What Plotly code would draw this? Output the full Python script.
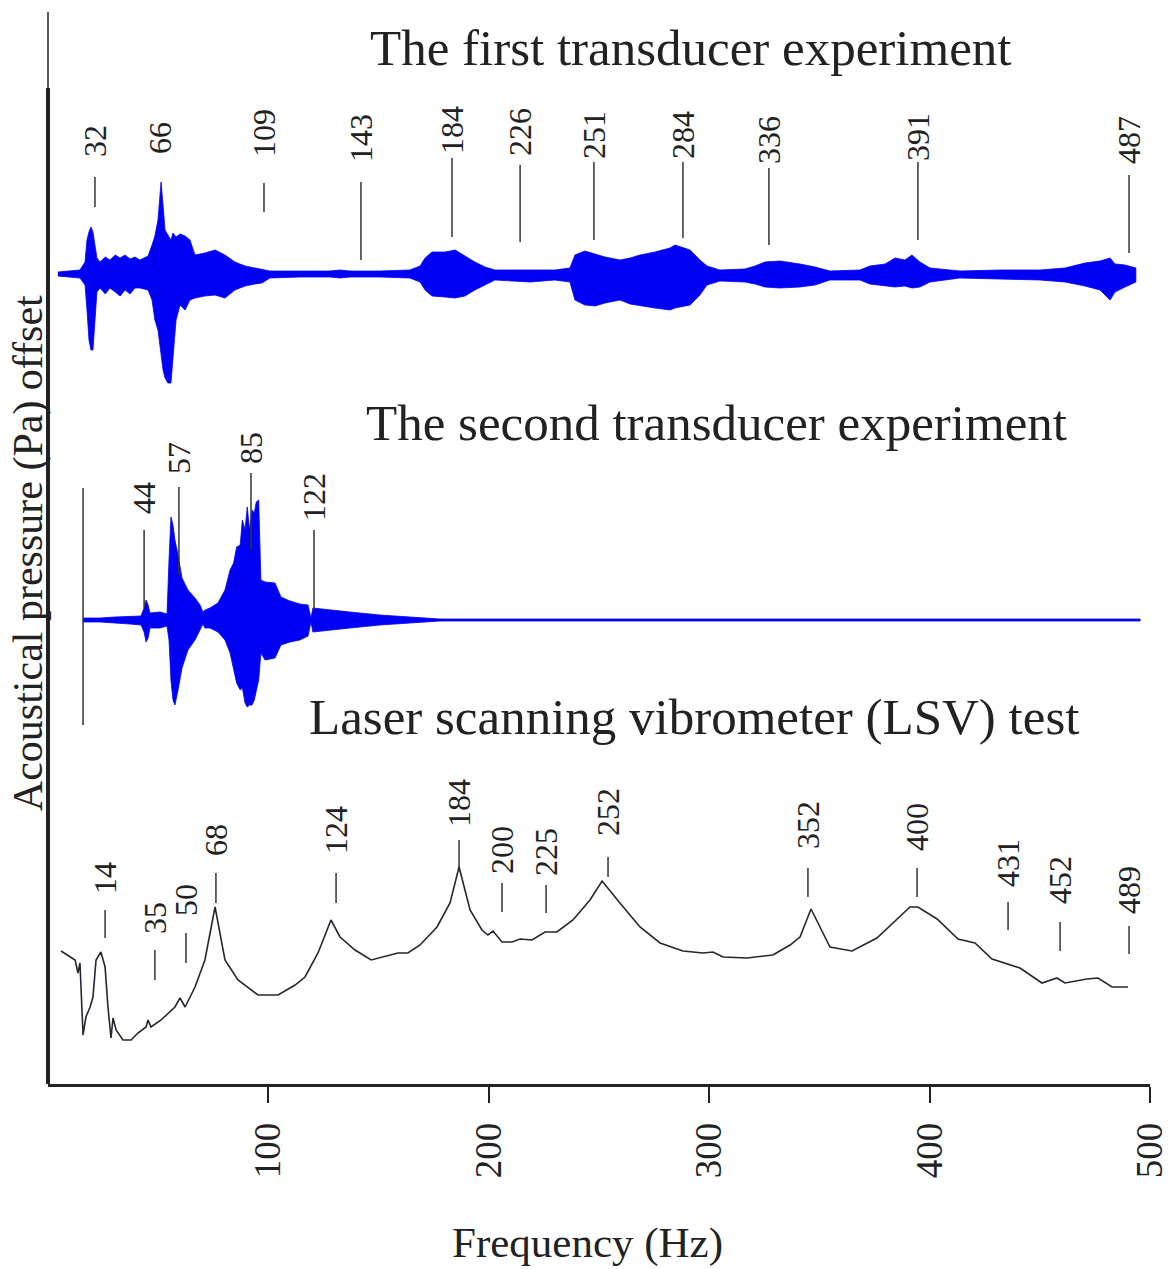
import plotly.graph_objects as go

FONT = "Liberation Serif"
INK = "#222222"
BLUE = "rgb(0,0,245)"

# ---------------- axis ticks ----------------
tick_vals = [100, 200, 300, 400, 500]
tick_text = ["100", "200", "300", "400", "500"]

# ---------------- first transducer experiment (envelope of the trace) ----------------
exp1_offset = 810
exp1_freq = [4.5, 10.0, 14.5, 16.8, 17.7, 18.6, 19.5, 20.4, 21.3, 22.2, 23.6, 26.0, 28.1, 30.5, 32.7, 35.0, 37.2, 39.5, 41.7,
             45.4, 47.2, 48.5, 49.9, 50.8, 51.3, 52.2, 53.1, 54.4, 55.8, 56.7, 58.1, 59.9, 62.2, 64.4,
             66.7, 71.2, 75.8, 80.3, 84.8, 89.4, 93.9, 97.1, 100.7, 114.3, 127.9, 132.5, 137.0, 150.6,
             164.2, 168.8, 171.1, 174.2, 180.1, 184.7, 189.2, 193.7, 198.3, 202.8, 218.7, 230.0, 236.8,
             239.1, 243.6, 248.2, 252.7, 259.5, 264.1, 268.6, 275.4, 282.2, 284.5, 291.3, 295.8, 299.0,
             304.9, 316.2, 320.8, 325.3, 332.1, 341.2, 348.0, 354.8, 368.4, 372.9, 379.8, 384.3, 388.8,
             392.0, 395.6, 400.2, 413.8, 431.9, 450.1, 461.4, 470.5, 477.3, 481.9, 484.1, 488.7, 493.6]
exp1_upper = [2, 3, 4, 12, 34, 42, 47, 42, 29, 16, 12, 17, 14, 19, 16, 19, 15, 17, 14,
              18, 29, 38, 54, 84, 92, 69, 44, 39, 34, 41, 37, 40, 38, 34,
              19, 21, 24, 19, 12, 8, 6, 4, 3, 3, 3, 4, 3, 3,
              4, 8, 16, 22, 22, 24, 18, 12, 7, 4, 4, 4, 6,
              19, 23, 20, 17, 14, 16, 19, 22, 26, 29, 24, 14, 8,
              4, 5, 8, 12, 13, 10, 7, 3, 4, 8, 10, 16, 14,
              19, 12, 6, 3, 4, 4, 6, 11, 13, 16, 10, 9, 6]
exp1_lower = [-2, -3, -4, -11, -36, -66, -76, -76, -46, -18, -14, -20, -14, -18, -22, -16, -20, -14, -14,
              -16, -26, -46, -56, -71, -81, -96, -104, -109, -109, -86, -46, -31, -36, -26,
              -24, -22, -21, -24, -16, -12, -10, -9, -4, -3, -3, -4, -3, -3,
              -4, -8, -16, -22, -23, -24, -22, -16, -11, -6, -8, -6, -8,
              -26, -31, -32, -29, -26, -30, -32, -34, -36, -34, -31, -21, -11,
              -7, -8, -10, -13, -14, -13, -11, -6, -6, -10, -12, -13, -12,
              -14, -13, -8, -4, -5, -6, -8, -12, -16, -26, -18, -13, -8]

exp1_peaks = ["32", "66", "109", "143", "184", "226", "251", "284", "336", "391", "487"]
exp1_peak_x = [21.3, 50.8, 98.0, 142.0, 183.3, 214.2, 247.7, 288.1, 327.1, 394.7, 490.5]
exp1_text_y = [926, 929, 926, 921, 929, 927, 924, 924, 919, 922, 919]
exp1_line_top = [907, None, 901, 902, 926, 919, 922, 922, 916, 922, 909]
exp1_line_bot = [877, None, 872, 824, 847, 842, 844, 846, 839, 844, 831]

# ---------------- second transducer experiment ----------------
exp2_offset = 464
exp2_freq = [15.9, 23.6, 30.4, 37.2, 42.2, 43.6, 44.5, 45.4, 46.3, 50.8, 54.0, 54.9, 55.8, 56.7,
             57.6, 59.0, 60.8, 63.5, 66.7, 69.0, 70.3, 71.2, 73.5, 77.1, 80.3, 82.6, 84.2, 85.6,
             87.2, 88.2, 89.4, 90.4, 91.5, 92.6, 93.6, 94.5, 95.6, 96.6, 98.5, 103.0, 105.7, 109.8,
             114.3, 118.0, 119.3, 120.2, 127.9, 137.0, 150.6, 164.2, 177.9, 495.5]
exp2_upper = [2, 2, 3, 4, 4, 12, 20, 15, 7, 8, 6, 60, 103, 95,
              80, 65, 42, 30, 22, 15, 8, 10, 12, 17, 30, 50, 57, 73,
              75, 100, 90, 113, 90, 110, 107, 118, 120, 40, 38, 37, 23, 19,
              16, 15, 2, 12, 10, 8, 5, 3, 1, 1]
exp2_lower = [-2, -2, -3, -4, -5, -12, -22, -18, -8, -8, -6, -20, -60, -80,
              -85, -70, -48, -30, -20, -10, -4, -8, -8, -12, -20, -33, -50, -63,
              -70, -68, -83, -87, -85, -85, -80, -73, -60, -33, -40, -38, -25, -22,
              -20, -16, -2, -12, -10, -8, -5, -3, -1, -1]
exp2_start_x = 15.9
exp2_start_span = [359, 596]

exp2_peaks = ["44", "57", "85", "122"]
exp2_peak_x = [43.6, 59.4, 92.1, 120.7]
exp2_text_y = [569, 609, 619, 562]
exp2_line_top = [554, 597, 611, 554]
exp2_line_bot = [476, 509, 534, 474]

# ---------------- laser scanning vibrometer (LSV) test ----------------
lsv_freq = [5.9, 12.3, 13.6, 14.5, 15.9, 17.2, 19.1, 20.4, 21.8, 24.0, 25.9, 27.2, 28.6, 29.5,
            30.9, 34.0, 37.7, 40.8, 44.5, 45.4, 46.7, 51.3, 57.6, 59.9, 62.2, 66.7, 71.2, 75.8,
            80.3, 86.2, 95.3, 104.4, 112.1, 116.6, 122.5, 128.4, 132.5, 139.3, 146.6, 158.8,
            163.3, 168.8, 176.5, 182.4, 186.5, 191.5, 196.9, 199.6, 201.9, 206.0, 210.5, 214.2,
            219.6, 225.5, 230.9, 238.2, 245.9, 251.4, 259.5, 268.6, 277.7, 288.1, 297.2, 301.7,
            306.3, 317.2, 328.9, 336.7, 341.2, 346.2, 354.8, 364.8, 376.1, 386.6, 391.1, 394.7,
            403.4, 412.9, 420.6, 428.3, 441.0, 451.0, 457.8, 461.4, 471.4, 476.4, 482.8, 490.0]
lsv_amp = [133, 124, 111, 121, 49, 67, 77, 87, 124, 132, 117, 77, 46, 66,
           54, 44, 44, 51, 57, 64, 57, 64, 77, 86, 77, 97, 124, 177,
           124, 104, 89, 89, 99, 107, 131, 164, 147, 134, 124, 131,
           131, 139, 157, 181, 217, 174, 154, 149, 153, 142, 142, 145,
           144, 152, 152, 164, 184, 203, 181, 157, 141, 133, 131, 132,
           127, 126, 129, 139, 147, 175, 137, 133, 146, 167, 177, 177,
           165, 145, 141, 125, 116, 101, 106, 101, 105, 106, 97, 97]

lsv_peaks = ["14", "35", "50", "68", "124", "184", "200", "225", "252", "352", "400", "431", "452", "489"]
lsv_peak_x = [25.9, 48.5, 62.6, 76.2, 130.7, 186.5, 206.0, 226.0, 254.1, 344.8, 394.3, 435.6, 459.2, 490.5]
lsv_text_y = [189, 149, 167, 227, 229, 256, 209, 207, 247, 234, 232, 196, 179, 169]
lsv_line_top = [174, 134, 151, 211, 211, 244, 201, 199, 227, 216, 216, 182, 162, 158]
lsv_line_bot = [146, 104, 121, 181, 181, 217, 172, 171, 207, 187, 187, 154, 133, 130]

titles = ["The first transducer experiment", "The second transducer experiment",
          "Laser scanning vibrometer (LSV) test"]
title_x = [291.7, 303.1, 293.1]
title_y = [1036, 661, 367]

fig = go.Figure()


def envelope(freq, upper, lower, offset):
    xs = list(freq) + list(freq[::-1])
    ys = [offset + u for u in upper] + [offset + l for l in lower[::-1]]
    fig.add_trace(go.Scatter(x=xs, y=ys, mode="lines", fill="toself", fillcolor=BLUE,
                             line=dict(color=BLUE, width=0.8), hoverinfo="skip", showlegend=False))


envelope(exp1_freq, exp1_upper, exp1_lower, exp1_offset)
envelope(exp2_freq, exp2_upper, exp2_lower, exp2_offset)

fig.add_trace(go.Scatter(x=lsv_freq, y=lsv_amp, mode="lines",
                         line=dict(color="#26262f", width=1.6), showlegend=False))

# leader lines for peak labels
lx, ly = [], []
for xs_, tops, bots in [(exp1_peak_x, exp1_line_top, exp1_line_bot),
                        (exp2_peak_x, exp2_line_top, exp2_line_bot),
                        (lsv_peak_x, lsv_line_top, lsv_line_bot)]:
    for x, t, b in zip(xs_, tops, bots):
        if t is None:
            continue
        lx += [x, x, None]
        ly += [b, t, None]
lx += [exp2_start_x, exp2_start_x, None]
ly += [exp2_start_span[0], exp2_start_span[1], None]
fig.add_trace(go.Scatter(x=lx, y=ly, mode="lines", line=dict(color="#333333", width=1.5),
                         hoverinfo="skip", showlegend=False))

ann = []
for labels, xs_, ys_ in [(exp1_peaks, exp1_peak_x, exp1_text_y),
                         (exp2_peaks, exp2_peak_x, exp2_text_y),
                         (lsv_peaks, lsv_peak_x, lsv_text_y)]:
    for t, x, y in zip(labels, xs_, ys_):
        ann.append(dict(text=t, x=x, y=y, xref="x", yref="y", xanchor="center", yanchor="bottom",
                        textangle=-90, showarrow=False, borderpad=0,
                        font=dict(family=FONT, size=32, color=INK)))
for t, x, y in zip(titles, title_x, title_y):
    ann.append(dict(text=t, x=x, y=y, xref="x", yref="y", xanchor="center", yanchor="middle",
                    showarrow=False, font=dict(family=FONT, size=51, color=INK)))
ann.append(dict(text="Frequency (Hz)", x=244.6, y=-0.148, xref="x", yref="paper",
                xanchor="center", yanchor="middle", showarrow=False,
                font=dict(family=FONT, size=43, color=INK)))
ann.append(dict(text="Acoustical pressure (Pa) offset", x=-0.018, y=531, xref="paper", yref="y",
                xanchor="center", yanchor="middle", textangle=-90, showarrow=False,
                font=dict(family=FONT, size=42, color=INK)))

shapes = [
    dict(type="line", xref="paper", yref="y", x0=0, x1=0, y0=0, y1=996,
         line=dict(color=INK, width=4)),
    dict(type="line", xref="paper", yref="y", x0=0, x1=0, y0=996, y1=1072,
         line=dict(color=INK, width=1.5)),
]

fig.update_layout(
    width=1170, height=1269, autosize=False,
    margin=dict(l=48, r=20, t=12, b=185, autoexpand=False),
    paper_bgcolor="white", plot_bgcolor="white",
    annotations=ann, shapes=shapes, showlegend=False,
    xaxis=dict(range=[0, 500], showgrid=False, zeroline=False, showline=True, linewidth=3,
               linecolor=INK, ticks="outside", ticklen=16, tickwidth=2, tickcolor=INK,
               tickvals=tick_vals, ticktext=tick_text, tickangle=-90, ticklabelstandoff=5,
               ticklabeloverflow="allow", automargin=False,
               tickfont=dict(family=FONT, size=37, color=INK)),
    yaxis=dict(range=[0, 1072], visible=False, showgrid=False, zeroline=False),
)

fig.write_html("out.html")
